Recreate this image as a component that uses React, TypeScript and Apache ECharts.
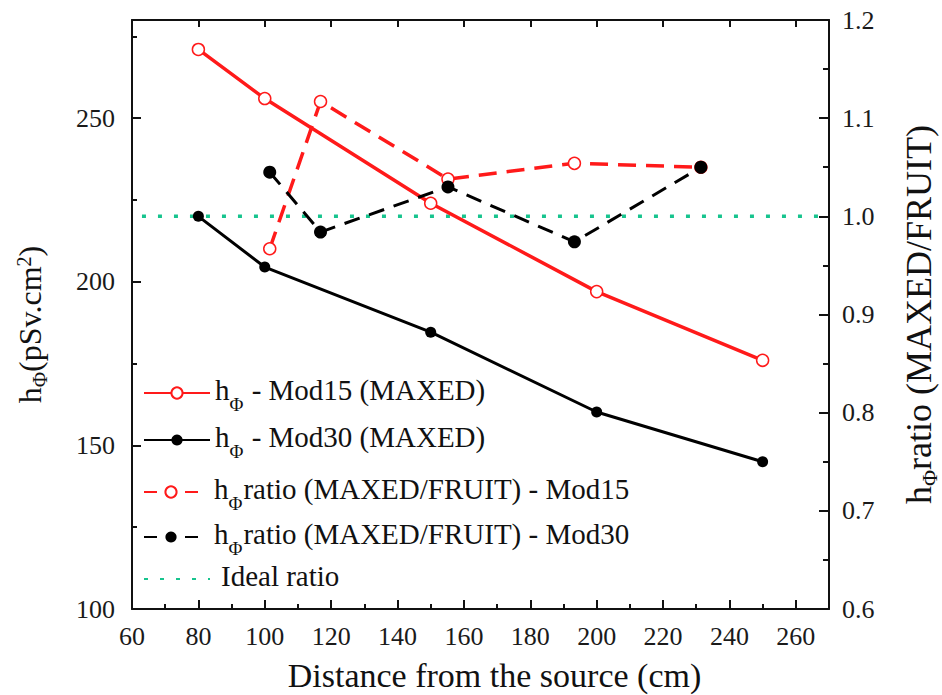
import React, { useEffect, useRef } from "react";
import * as echarts from "echarts";

// ---- data ----
const distances = [80, 100, 150, 200, 250];
const mod15Maxed = [271, 256, 224, 197, 176];
const mod30Maxed = [220, 204.5, 184.6, 160.2, 145];

const ratioDistances = [101.5, 116.8, 155.2, 193.3, 231.4];
const ratioMod15 = [0.967, 1.117, 1.038, 1.054, 1.05];
const ratioMod30 = [1.045, 0.984, 1.03, 0.974, 1.05];

const idealX = [63, 270];
const idealRatio = [1.0, 1.0];

const xTicks = { min: 60, max: 270, major: 20, minor: 10 };
const yLeftTicks = { min: 100, max: 280, major: 50, minor: 25 };
const yRightTicks = { min: 0.6, max: 1.2, major: 0.1 };

const names = {
  m15: "hPhi - Mod15 (MAXED)",
  m30: "hPhi - Mod30 (MAXED)",
  r15: "hPhi ratio (MAXED/FRUIT) - Mod15",
  r30: "hPhi ratio (MAXED/FRUIT) - Mod30",
  ideal: "Ideal ratio",
};

const legendLabels: Record<string, string> = {
  [names.m15]: "{a|h}{s|Φ}{a| - Mod15 (MAXED)}",
  [names.m30]: "{a|h}{s|Φ}{a| - Mod30 (MAXED)}",
  [names.r15]: "{g|}{a|h}{s|Φ}{a|ratio (MAXED/FRUIT) - Mod15}",
  [names.r30]: "{g|}{a|h}{s|Φ}{a|ratio (MAXED/FRUIT) - Mod30}",
  [names.ideal]: "{g2|}{a|Ideal ratio}",
};

const FONT = "Times New Roman, Liberation Serif, DejaVu Serif, serif";
const RED = "#ff1a1a";
const BLACK = "#000000";
const GREEN = "#17c48e";

const zip = (xs: number[], ys: number[]) => xs.map((x, i) => [x, ys[i]]);

export default function App() {
  const ref = useRef<HTMLDivElement>(null);

  useEffect(() => {
    if (!ref.current) return;
    const chart = echarts.init(ref.current, undefined, { renderer: "svg" });

    const legendRich = {
      a: { fontFamily: FONT, fontSize: 29, color: "#111", lineHeight: 36, verticalAlign: "top" },
      s: { fontFamily: FONT, fontSize: 19, color: "#111", lineHeight: 19, padding: [20, 1, 0, 0], verticalAlign: "top" },
      g: { width: 11 },
      g2: { width: 6 },
    };
    const leftTitleRich = {
      a: { fontFamily: FONT, fontSize: 32, color: "#111", lineHeight: 36, verticalAlign: "top" },
      s: { fontFamily: FONT, fontSize: 21, color: "#111", lineHeight: 21, padding: [15, 0, 0, 0], verticalAlign: "top" },
      sup: { fontFamily: FONT, fontSize: 20, color: "#111", lineHeight: 20, padding: [0, 0, 0, 0], verticalAlign: "top" },
    };
    const rightTitleRich = {
      a: { fontFamily: FONT, fontSize: 36, color: "#111", lineHeight: 40, verticalAlign: "top" },
      s: { fontFamily: FONT, fontSize: 22, color: "#111", lineHeight: 22, padding: [17, 0, 0, 0], verticalAlign: "top" },
    };
    const axisLine = { show: true, lineStyle: { color: "#111", width: 2 } };
    const labelStyle = { fontFamily: FONT, fontSize: 26, color: "#1a1a1a" };

    const legendBase = {
      orient: "vertical",
      left: 143,
      padding: 0,
      itemHeight: 14,
      formatter: (n: string) => legendLabels[n] || n,
      textStyle: { fontFamily: FONT, rich: legendRich },
    };

    chart.setOption({
      animation: false,
      backgroundColor: "#fff",
      textStyle: { fontFamily: FONT },
      grid: { left: 132, right: 113, top: 20, bottom: 86, containLabel: false, outerBoundsMode: "none" },
      legend: [
        { ...legendBase, top: 375, itemWidth: 66, itemGap: 8, data: [names.m15, names.m30] },
        {
          ...legendBase,
          top: 474,
          itemWidth: 54,
          itemGap: 6,
          data: [
            { name: names.r15, lineStyle: { type: [13, 28] } },
            { name: names.r30, lineStyle: { type: [13, 28] } },
          ],
        },
        { ...legendBase, top: 561, itemWidth: 66, data: [names.ideal] },
      ],
      xAxis: [
        {
          type: "value",
          position: "bottom",
          min: xTicks.min,
          max: xTicks.max,
          interval: xTicks.major,
          name: "Distance from the source (cm)",
          nameLocation: "middle",
          nameGap: 49,
          nameMoveOverlap: false,
          nameTextStyle: { fontFamily: FONT, fontSize: 34, color: "#111", padding: [0, 0, 0, 28] },
          axisLine,
          axisTick: { show: true, inside: true, length: 9, lineStyle: { color: "#111", width: 2 } },
          axisLabel: { ...labelStyle, margin: 14, showMaxLabel: false },
          splitLine: { show: false },
        },
        {
          type: "value",
          position: "bottom",
          min: xTicks.min,
          max: xTicks.max,
          interval: xTicks.minor,
          axisLine: { show: false },
          axisTick: { show: true, inside: true, length: 5, lineStyle: { color: "#111", width: 2 } },
          axisLabel: { show: false },
          splitLine: { show: false },
        },
        {
          type: "value",
          position: "top",
          min: xTicks.min,
          max: xTicks.max,
          interval: xTicks.major,
          axisLine,
          axisTick: { show: true, inside: true, length: 7, lineStyle: { color: "#111", width: 2 } },
          axisLabel: { show: false },
          splitLine: { show: false },
        },
      ],
      yAxis: [
        {
          type: "value",
          position: "left",
          min: yLeftTicks.min,
          max: yLeftTicks.max,
          interval: yLeftTicks.major,
          name: "{a|h}{s|Φ}{a|(pSv.cm}{sup|2}{a|)}",
          nameLocation: "middle",
          nameGap: 82,
          nameRotate: 90,
          nameMoveOverlap: false,
          nameTextStyle: { fontFamily: FONT, rich: leftTitleRich, padding: [0, 20, 0, 0] },
          axisLine,
          axisTick: { show: true, inside: true, length: 9, lineStyle: { color: "#111", width: 2 } },
          axisLabel: { ...labelStyle, margin: 17, showMaxLabel: false },
          splitLine: { show: false },
        },
        {
          type: "value",
          position: "right",
          min: yRightTicks.min,
          max: yRightTicks.max,
          interval: yRightTicks.major,
          name: "{a|h}{s|Φ}{a|ratio (MAXED/FRUIT)}",
          nameLocation: "middle",
          nameGap: 72,
          nameRotate: 90,
          nameMoveOverlap: false,
          nameTextStyle: { fontFamily: FONT, rich: rightTitleRich },
          axisLine,
          axisTick: { show: true, inside: true, length: 10, lineStyle: { color: "#111", width: 2 } },
          minorTick: { show: true, splitNumber: 2, length: 6, lineStyle: { color: "#111", width: 2 } },
          axisLabel: { ...labelStyle, margin: 13, formatter: (v: number) => v.toFixed(1) },
          splitLine: { show: false },
          minorSplitLine: { show: false },
        },
        {
          type: "value",
          position: "left",
          min: yLeftTicks.min,
          max: yLeftTicks.max,
          interval: yLeftTicks.minor,
          axisLine: { show: false },
          axisTick: { show: true, inside: true, length: 5, lineStyle: { color: "#111", width: 2 } },
          axisLabel: { show: false },
          splitLine: { show: false },
        },
      ],
      series: [
        {
          name: names.m15,
          type: "line",
          xAxisIndex: 0,
          yAxisIndex: 0,
          data: zip(distances, mod15Maxed),
          symbol: "circle",
          symbolSize: 12,
          lineStyle: { color: RED, width: 3.5 },
          itemStyle: { color: "#fff", borderColor: RED, borderWidth: 1.5 },
          z: 3,
        },
        {
          name: names.m30,
          type: "line",
          xAxisIndex: 0,
          yAxisIndex: 0,
          data: zip(distances, mod30Maxed),
          symbol: "circle",
          symbolSize: 11,
          lineStyle: { color: BLACK, width: 3 },
          itemStyle: { color: BLACK, borderColor: BLACK, borderWidth: 0 },
          z: 3,
        },
        {
          name: names.r15,
          type: "line",
          xAxisIndex: 0,
          yAxisIndex: 1,
          data: zip(ratioDistances, ratioMod15),
          symbol: "circle",
          symbolSize: 12,
          lineStyle: { color: RED, width: 3.5, type: [18, 10] },
          itemStyle: { color: "#fff", borderColor: RED, borderWidth: 1.5 },
          z: 4,
        },
        {
          name: names.r30,
          type: "line",
          xAxisIndex: 0,
          yAxisIndex: 1,
          data: zip(ratioDistances, ratioMod30),
          symbol: "circle",
          symbolSize: 13,
          lineStyle: { color: BLACK, width: 3, type: [16, 10] },
          itemStyle: { color: BLACK, borderColor: BLACK, borderWidth: 0 },
          z: 4,
        },
        {
          name: names.ideal,
          type: "line",
          xAxisIndex: 0,
          yAxisIndex: 1,
          data: zip(idealX, idealRatio),
          symbol: "none",
          lineStyle: { color: GREEN, width: 3.5, type: [4, 12] },
          itemStyle: { color: "transparent", borderColor: "transparent" },
          z: 2,
        },
      ],
    });

    return () => chart.dispose();
  }, []);

  return <div ref={ref} style={{ width: 942, height: 695, position: "absolute", left: 0, top: 0 }} />;
}
